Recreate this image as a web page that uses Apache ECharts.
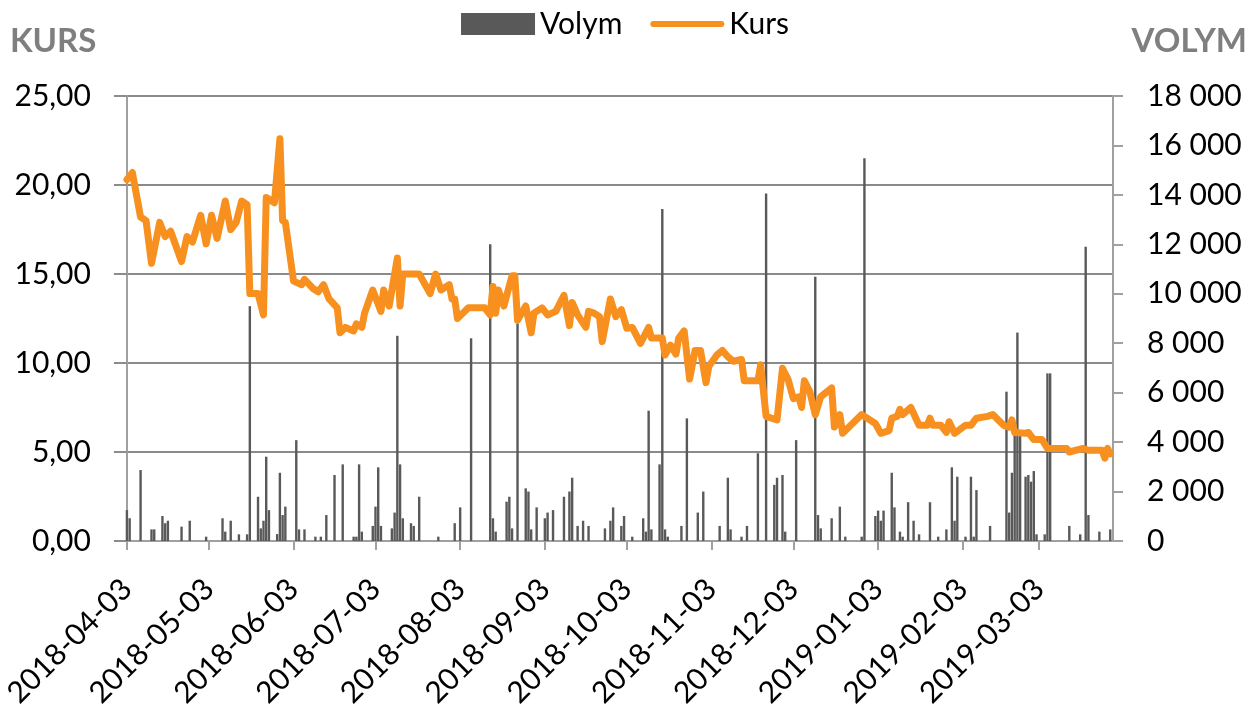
<!DOCTYPE html>
<html>
<head>
<meta charset="utf-8">
<script src="https://cdn.jsdelivr.net/npm/echarts@6/dist/echarts.min.js"></script>
<style>
html,body{margin:0;padding:0;background:#fff;}
#chart{width:1250px;height:713px;}
</style>
</head>
<body>
<div id="chart"></div>
<script>
// ---- Data ----
const axisStart = '2018-04-03';
const axisEnd = '2019-03-30';

const kursDates = [
'2018-04-03','2018-04-05','2018-04-08','2018-04-10','2018-04-12','2018-04-15','2018-04-17','2018-04-19','2018-04-23','2018-04-25',
'2018-04-27','2018-04-30','2018-05-02','2018-05-04','2018-05-06','2018-05-09','2018-05-11','2018-05-13','2018-05-15','2018-05-17',
'2018-05-18','2018-05-21','2018-05-23','2018-05-24','2018-05-27','2018-05-29','2018-05-30','2018-05-31','2018-06-03','2018-06-06',
'2018-06-07','2018-06-10','2018-06-12','2018-06-14','2018-06-16','2018-06-19','2018-06-20','2018-06-22','2018-06-25','2018-06-26',
'2018-06-28','2018-06-29','2018-07-02','2018-07-05','2018-07-06','2018-07-08','2018-07-11','2018-07-12','2018-07-13','2018-07-19',
'2018-07-23','2018-07-25','2018-07-27','2018-07-30','2018-07-31','2018-08-01','2018-08-02','2018-08-06','2018-08-12','2018-08-14',
'2018-08-15','2018-08-16','2018-08-17','2018-08-19','2018-08-22','2018-08-23','2018-08-24','2018-08-27','2018-08-29','2018-08-30',
'2018-09-02','2018-09-04','2018-09-07','2018-09-10','2018-09-12','2018-09-13','2018-09-15','2018-09-18','2018-09-19','2018-09-21',
'2018-09-23','2018-09-24','2018-09-27','2018-09-29','2018-10-01','2018-10-03','2018-10-05','2018-10-08','2018-10-11','2018-10-12',
'2018-10-16','2018-10-17','2018-10-19','2018-10-21','2018-10-22','2018-10-24','2018-10-26','2018-10-28','2018-10-30','2018-11-01',
'2018-11-02','2018-11-05','2018-11-07','2018-11-09','2018-11-11','2018-11-14','2018-11-15','2018-11-20','2018-11-21','2018-11-23',
'2018-11-27','2018-11-29','2018-12-01','2018-12-03','2018-12-05','2018-12-06','2018-12-07','2018-12-09','2018-12-11','2018-12-13',
'2018-12-17','2018-12-18','2018-12-20','2018-12-21','2018-12-28','2019-01-02','2019-01-04','2019-01-07','2019-01-08','2019-01-10',
'2019-01-11','2019-01-12','2019-01-15','2019-01-18','2019-01-21','2019-01-22','2019-01-23','2019-01-26','2019-01-28','2019-01-29',
'2019-01-31','2019-02-04','2019-02-06','2019-02-08','2019-02-12','2019-02-14','2019-02-16','2019-02-18','2019-02-20','2019-02-21',
'2019-02-22','2019-02-26','2019-02-27','2019-03-01','2019-03-04','2019-03-06','2019-03-13','2019-03-14','2019-03-19','2019-03-21',
'2019-03-26','2019-03-27','2019-03-28','2019-03-29'
];
const kursValues = [
20.3,20.7,18.2,18.0,15.6,17.9,17.1,17.4,15.7,17.1,
16.8,18.3,16.7,18.3,17.0,19.1,17.5,17.9,19.1,18.9,
13.9,13.9,12.7,19.3,19.0,22.6,18.0,17.9,14.6,14.4,
14.7,14.2,14.0,14.4,13.6,13.1,11.7,12.0,11.8,12.2,
12.0,12.8,14.1,12.9,14.1,13.2,15.9,13.2,15.0,15.0,
13.9,15.0,14.1,14.4,13.6,13.6,12.5,13.1,13.1,12.7,
14.3,12.8,14.1,13.2,14.9,14.9,12.4,13.2,11.7,12.8,
13.1,12.7,12.9,13.8,12.1,13.4,12.7,12.0,12.9,12.8,
12.6,11.2,13.6,12.6,13.0,11.95,12.0,11.1,12.0,11.4,
11.4,10.45,11.0,10.5,11.4,11.8,9.1,10.7,10.7,8.9,
9.8,10.45,10.7,10.35,10.1,10.2,9.0,9.0,9.9,7.0,
6.8,9.7,9.1,8.0,8.1,7.5,9.0,8.4,7.1,8.1,
8.6,6.4,7.1,6.05,7.1,6.6,6.05,6.2,6.9,7.0,
7.4,7.1,7.5,6.5,6.5,6.9,6.5,6.5,6.1,6.7,
6.05,6.5,6.5,6.9,7.0,7.1,6.8,6.5,6.4,6.8,
6.1,6.05,6.1,5.7,5.7,5.2,5.2,5.0,5.2,5.1,
5.1,4.65,5.2,4.9
];

const volymDates = [
'2018-04-03','2018-04-04','2018-04-08','2018-04-12','2018-04-13','2018-04-16','2018-04-17','2018-04-18','2018-04-23','2018-04-26',
'2018-05-02','2018-05-08','2018-05-09','2018-05-11','2018-05-14','2018-05-17','2018-05-18','2018-05-21','2018-05-22','2018-05-23',
'2018-05-24','2018-05-25','2018-05-28','2018-05-29','2018-05-30','2018-05-31','2018-06-04','2018-06-05','2018-06-07','2018-06-11',
'2018-06-13','2018-06-15','2018-06-18','2018-06-21','2018-06-25','2018-06-26','2018-06-27','2018-06-28','2018-07-02','2018-07-03',
'2018-07-04','2018-07-05','2018-07-09','2018-07-10','2018-07-11','2018-07-12','2018-07-13','2018-07-16','2018-07-17','2018-07-19',
'2018-07-26','2018-08-01','2018-08-03','2018-08-07','2018-08-14','2018-08-15','2018-08-16','2018-08-20','2018-08-21','2018-08-22',
'2018-08-24','2018-08-27','2018-08-28','2018-08-29','2018-08-31','2018-09-03','2018-09-04','2018-09-06','2018-09-10','2018-09-12',
'2018-09-13','2018-09-15','2018-09-17','2018-09-19','2018-09-25','2018-09-27','2018-09-28','2018-10-01','2018-10-02','2018-10-05',
'2018-10-09','2018-10-10','2018-10-11','2018-10-12','2018-10-15','2018-10-16','2018-10-17','2018-10-18','2018-10-23','2018-10-25',
'2018-10-29','2018-10-31','2018-11-06','2018-11-09','2018-11-10','2018-11-14','2018-11-16','2018-11-20','2018-11-23','2018-11-26',
'2018-11-27','2018-11-29','2018-11-30','2018-12-04','2018-12-11','2018-12-12','2018-12-13','2018-12-17','2018-12-20','2018-12-22',
'2018-12-28','2018-12-29','2019-01-02','2019-01-03','2019-01-04','2019-01-05','2019-01-08','2019-01-09','2019-01-11','2019-01-12',
'2019-01-14','2019-01-16','2019-01-18','2019-01-22','2019-01-25','2019-01-28','2019-01-30','2019-01-31','2019-02-01','2019-02-04',
'2019-02-06','2019-02-07','2019-02-08','2019-02-13','2019-02-19','2019-02-20','2019-02-21','2019-02-22','2019-02-23','2019-02-24',
'2019-02-26','2019-02-27','2019-02-28','2019-03-01','2019-03-02','2019-03-05','2019-03-06','2019-03-07','2019-03-14','2019-03-18',
'2019-03-20','2019-03-21','2019-03-25','2019-03-29'
];
const volymValues = [
1250,920,2870,470,470,1010,720,820,580,820,
175,920,380,820,270,270,9500,1790,510,820,
3410,1250,280,2760,1050,1390,4080,470,470,175,
175,1050,2670,3100,175,175,3100,380,610,1390,
2980,610,510,1150,8300,3100,920,720,610,1790,
175,720,1360,8200,12000,920,380,1590,1790,510,
8800,2130,2000,470,1360,920,1150,1250,1790,2000,
2560,610,820,610,510,820,1360,610,1010,175,
920,380,5270,470,3100,13430,470,175,610,4960,
1150,2000,610,2560,470,175,610,3550,14060,2270,
2560,2670,380,4080,10690,1050,510,920,1390,175,
175,15480,1010,1230,820,1230,2760,1360,380,175,
1570,820,270,1570,175,470,2980,820,2600,175,
2600,175,2060,610,6040,1150,2760,4350,8430,4350,
2600,2670,2400,2830,270,270,6780,6780,610,270,
11900,1050,380,470
];

const kursTicks = {min: 0, max: 25, interval: 5};
const volymTicks = {min: 0, max: 18000, interval: 2000};

// calendar-day categories for the date axis
const categories = [];
(function(){
  let t = Date.parse(axisStart + 'T00:00:00Z');
  const end = Date.parse(axisEnd + 'T00:00:00Z');
  while (t <= end) {
    categories.push(new Date(t).toISOString().slice(0, 10));
    t += 86400000;
  }
})();

const FONT = 'Lato';
const ORANGE = '#F7901E';
const chart = echarts.init(document.getElementById('chart'));
const isMonthTick = (idx, val) => val.slice(8) === '03';

chart.setOption({
  animation: false,
  backgroundColor: '#ffffff',
  textStyle: {fontFamily: FONT},
  legend: {
    top: 4,
    left: 'center',
    itemWidth: 74,
    itemHeight: 22,
    itemGap: 28,
    symbolKeepAspect: true,
    textStyle: {fontFamily: FONT, fontSize: 30, color: '#000'},
    data: [
      {name: 'Volym', icon: 'rect', itemStyle: {color: '#595959'}},
      {name: 'Kurs', icon: 'path://M3,0L71,0A3,3 0 0 1 71,6L3,6A3,3 0 0 1 3,0Z', itemStyle: {color: ORANGE}}
    ]
  },
  grid: {left: 126, right: 137, top: 96, bottom: 172, containLabel: false},
  graphic: [
    {type: 'text', left: 10, top: 25, style: {text: 'KURS', fontFamily: FONT, fontWeight: 'bold', fontSize: 33, fill: '#7f7f7f'}},
    {type: 'text', right: 3, top: 25, style: {text: 'VOLYM', fontFamily: FONT, fontWeight: 'bold', fontSize: 33, fill: '#7f7f7f'}}
  ],
  xAxis: {
    type: 'category',
    data: categories,
    boundaryGap: false,
    axisLine: {lineStyle: {color: '#a0a0a0', width: 2}},
    axisTick: {show: true, interval: isMonthTick, length: 9, lineStyle: {color: '#a0a0a0', width: 2}},
    axisLabel: {interval: isMonthTick, rotate: 45, margin: 43, fontFamily: FONT, fontSize: 30, color: '#000'},
    splitLine: {show: false}
  },
  yAxis: [
    {
      type: 'value',
      min: kursTicks.min, max: kursTicks.max, interval: kursTicks.interval,
      position: 'left',
      axisLine: {show: true, lineStyle: {color: '#a0a0a0', width: 2}},
      axisTick: {show: true, length: 13, lineStyle: {color: '#8c8c8c', width: 2}},
      axisLabel: {margin: 36, fontFamily: FONT, fontSize: 30, color: '#000',
        formatter: v => v.toFixed(2).replace('.', ',')},
      splitLine: {show: true, lineStyle: {color: '#8a8a8a', width: 2}}
    },
    {
      type: 'value',
      min: volymTicks.min, max: volymTicks.max, interval: volymTicks.interval,
      position: 'right',
      axisLine: {show: true, lineStyle: {color: '#a0a0a0', width: 2}},
      axisTick: {show: true, length: 10, lineStyle: {color: '#a0a0a0', width: 2}},
      axisLabel: {margin: 34, fontFamily: FONT, fontSize: 30, color: '#000',
        formatter: v => v === 0 ? '0' : (Math.floor(v / 1000) + ' ' + String(v % 1000).padStart(3, '0'))},
      splitLine: {show: false}
    }
  ],
  series: [
    {
      name: 'Volym',
      type: 'bar',
      yAxisIndex: 1,
      barWidth: 2.4,
      itemStyle: {color: '#595959'},
      data: volymDates.map((d, i) => [d, volymValues[i]]),
      z: 2
    },
    {
      name: 'Kurs',
      type: 'line',
      yAxisIndex: 0,
      symbol: 'none',
      showSymbol: false,
      lineStyle: {color: ORANGE, width: 7, cap: 'round', join: 'round'},
      itemStyle: {color: ORANGE},
      data: kursDates.map((d, i) => [d, kursValues[i]]),
      z: 3
    }
  ]
});
</script>
</body>
</html>
